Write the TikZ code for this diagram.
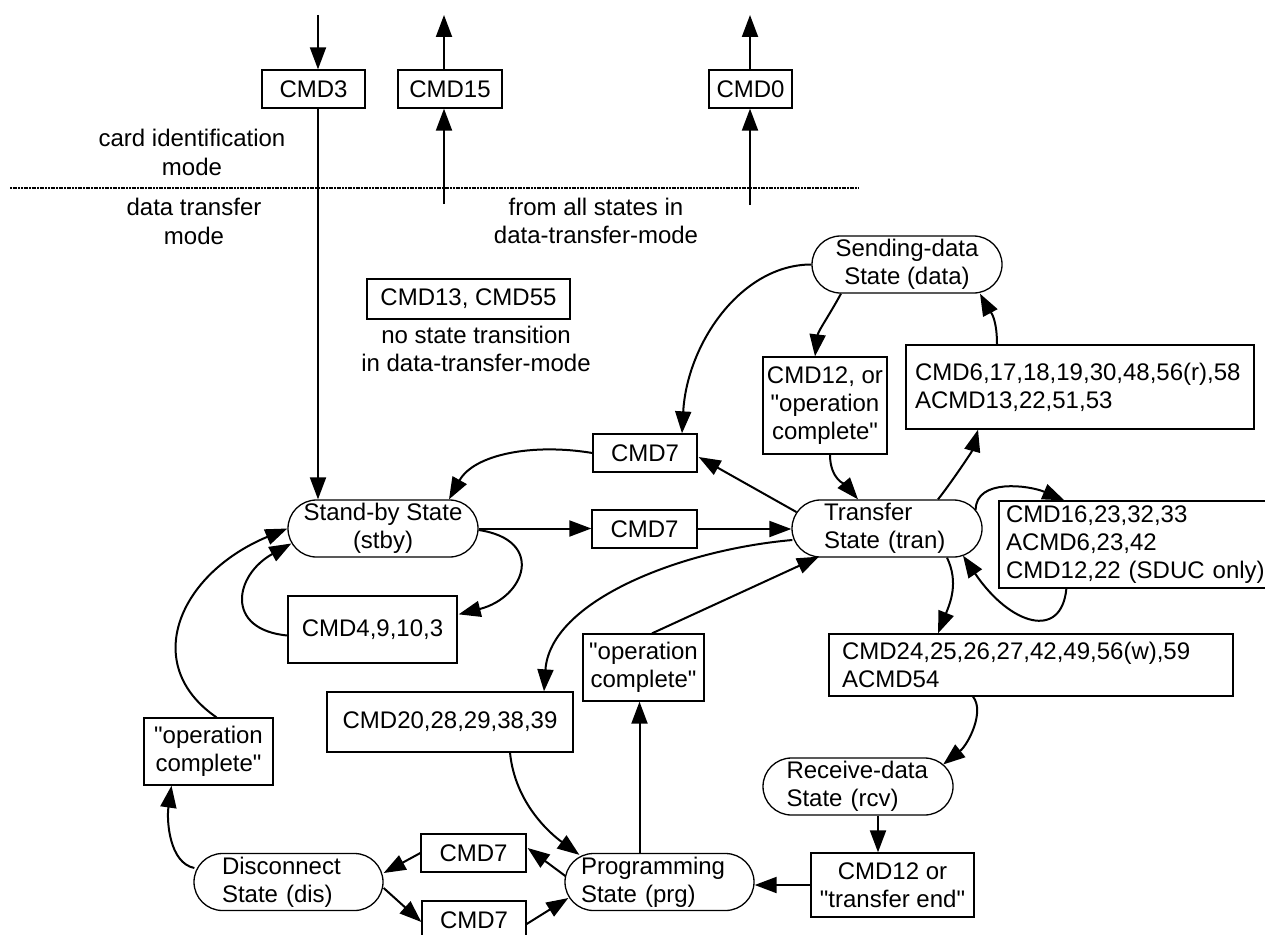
\documentclass[tikz,border=0pt]{standalone}
\usepackage{fontspec}
\newfontfamily\diagfont{Liberation Sans}
\usetikzlibrary{arrows.meta,calc}
\begin{document}
\begin{tikzpicture}[x=1pt,y=-1pt,
  font=\diagfont\fontsize{24pt}{28.3pt}\selectfont,
  box/.style={draw, line width=1.3pt, inner sep=0pt, align=center},
  lbox/.style={draw, line width=1.3pt, inner ysep=0pt, align=left},
  state/.style={draw, line width=1.3pt, rounded corners=28.5pt, inner sep=0pt, minimum width=190pt, minimum height=57pt, align=center},
  lstate/.style={draw, line width=1.3pt, rounded corners=28.5pt, inner ysep=0pt, minimum height=57pt, align=left},
  arr/.style={line width=2pt, -{Triangle[length=22pt,width=16pt]}},
  lbl/.style={align=center, inner sep=0pt}]

\fill[white] (0,0) rectangle (1265,934);
\useasboundingbox (0,0) rectangle (1265,934);

% ---- top area ----
\node[box, minimum width=103pt, minimum height=38pt] (cmd3) at (313.5,89) {CMD3};
\node[box, minimum width=104pt, minimum height=38pt] (cmd15) at (450,89) {CMD15};
\node[box, minimum width=83pt, minimum height=38pt] (cmd0) at (750.5,89) {CMD0};
\node[lbl] (cardid) at (192,152.5) {card identification\\mode};
\node[lbl] (dtm) at (194,221.5) {data transfer\\mode};
\node[lbl] (fromall) at (596,221) {from all states in\\data-transfer-mode};
\draw[line width=1.6pt, dash pattern=on 2pt off 0.7pt] (10,188) -- (858,188);

\node[box, minimum width=203pt, minimum height=40pt] (cmd1355) at (468.5,299) {CMD13, CMD55};
\node[lbl] (nost) at (476,349) {no state transition\\in data-transfer-mode};

% ---- states ----
\node[state] (data) at (907,264.5) {Sending-data\\State (data)};
\node[state] (stby) at (383,528.5) {Stand-by State\\(stby)};
\node[lstate, text width=126pt, inner xsep=32pt] (tran) at (887,528.5) {Transfer\\State (tran)};
\node[lstate, text width=143pt, inner xsep=23.5pt] (rcv) at (858,786.5) {Receive-data\\State (rcv)};
\node[lstate, text width=157pt, inner xsep=16pt] (prg) at (659.5,882) {Programming\\State (prg)};
\node[lstate, text width=133pt, inner xsep=28pt] (dis) at (288.5,882) {Disconnect\\State (dis)};

% ---- command boxes ----
\node[box, minimum width=124pt, minimum height=97pt] (cmd12or) at (825,405.5) {CMD12, or\\"operation\\complete"};
\node[lbox, text width=330pt, inner xsep=9pt, minimum height=84pt] (cmd6) at (1080,387) {CMD6,17,18,19,30,48,56(r),58\\ACMD13,22,51,53};
\node[lbox, text width=260pt, inner xsep=7pt, minimum height=87pt] (cmd16) at (1136,544.5) {CMD16,23,32,33\\ACMD6,23,42\\CMD12,22 (SDUC only)};
\node[lbox, text width=378pt, inner xsep=13pt, minimum height=62pt] (cmd24) at (1031,665) {CMD24,25,26,27,42,49,56(w),59\\ACMD54};
\node[box, minimum width=104pt, minimum height=38pt] (cmd7a) at (645,453) {CMD7};
\node[box, minimum width=105pt, minimum height=38pt] (cmd7b) at (644.5,529) {CMD7};
\node[box, minimum width=163pt, minimum height=64pt] (cmd12te) at (892.5,885) {CMD12 or\\"transfer end"};
\node[box, minimum width=121pt, minimum height=67pt] (opc2) at (643.5,667.5) {"operation\\complete"};
\node[box, minimum width=246pt, minimum height=60pt] (cmd20) at (450,722) {CMD20,28,29,38,39};
\node[box, minimum width=169pt, minimum height=67pt] (cmd4) at (372.5,629.5) {CMD4,9,10,3};
\node[box, minimum width=129pt, minimum height=67pt] (opc1) at (208.5,751.5) {"operation\\complete"};
\node[box, minimum width=105pt, minimum height=38pt] (cmd7c) at (473.5,853) {CMD7};
\node[box, minimum width=104pt, minimum height=38pt] (cmd7d) at (474,920) {CMD7};

% ---- connectors: top ----
\coordinate (t3) at (318,15);
\draw[arr] (t3) -- (t3 |- cmd3.north);
\draw[arr] (cmd3.south -| t3) -- (stby.north -| t3);
\coordinate (t15) at (444,15);
\coordinate (b15) at (444,204);
\draw[arr] (cmd15.north -| t15) -- (t15);
\draw[arr] (b15) -- (b15 |- cmd15.south);
\coordinate (t0) at (750,15);
\coordinate (b0) at (750,205);
\draw[arr] (cmd0.north -| t0) -- (t0);
\draw[arr] (b0) -- (b0 |- cmd0.south);

% ---- connectors: main ----
\draw[arr] (data.west) .. controls +(-70,0) and +(5,-90) .. ($(cmd7a.north)+(37,0)$);
\draw[arr] (cmd7a.west) .. controls +(-60,-10) and +(25,-45) .. ($(stby.north)+(66,0)$);
\draw[arr] ($(tran.west)+(5,-16.5)$) -- ($(cmd7a.east)+(1,4)$);
\draw[arr] (stby.east) -- (stby.east -| cmd7b.west);
\draw[arr] (cmd7b.east) -- (cmd7b.east -| tran.west);
\draw[arr] ($(data.south)+(-66,0)$) .. controls +(-12,22) and +(3,-25) .. ($(cmd12or.north)+(-10,0)$);
\draw[arr] ($(cmd12or.south)+(5,0)$) .. controls +(0,25) and +(-12,-14) .. ($(tran.north)+(-29,0)$);
\draw[arr] ($(tran.north)+(51,0)$) .. controls +(12,-15) and +(-6,22) .. ($(cmd6.south)+(-102,0)$);
\draw[arr] ($(cmd6.north)+(-83,0)$) .. controls +(0,-30) and +(8,15) .. ($(data.south)+(73,0)$);
\draw[arr] ($(tran.east)+(-7,-18.5)$) .. controls +(0,-32) and +(-35,-15) .. ($(cmd16.north west)+(66,0)$);
\draw[arr] ($(cmd16.south west)+(68,0)$) .. controls +(-5,52) and +(47,69.5) .. ($(tran.south)+(76,-2)$);
\draw[arr] ($(tran.south)+(60,0)$) .. controls +(12,25) and +(12,-30) .. ($(cmd24.north)+(-93,0)$);
\draw[arr] ($(cmd24.south)+(-58,0)$) .. controls +(12,15) and +(25,-20) .. ($(rcv.east)+(-10.5,-22)$);
\coordinate (r1) at ($(rcv.south)+(20,0)$);
\draw[arr] (r1) -- (r1 |- cmd12te.north);
\draw[arr] (cmd12te.west) -- (cmd12te.west -| prg.east);
\coordinate (p1) at ($(prg.north)+(-20,0)$);
\draw[arr] (p1) -- (p1 |- opc2.south);
\draw[arr] ($(opc2.north)+(8.5,0)$) -- ($(tran.south)+(-68,-1)$);
\draw[arr] ($(tran.west)+(1,11.5)$) .. controls +(-113,10) and +(6,-90) .. ($(cmd20.north)+(94,0)$);
\draw[arr] ($(cmd20.south)+(60,0)$) .. controls +(5,50) and +(-30,-22) .. ($(prg.north west)+(15,2)$);
\draw[arr] ($(prg.west)+(1,-6)$) -- ($(cmd7c.east)+(1,-5)$);
\draw[arr] (cmd7c.west) -- ($(dis.east)+(0,-9)$);
\draw[arr] ($(dis.east)+(0,6)$) -- ($(cmd7d.west)+(0,2)$);
\draw[arr] ($(cmd7d.east)+(0,4)$) -- ($(prg.west)+(4,16)$);
\draw[arr] ($(dis.west)+(1,-14)$) .. controls +(-25,-5) and +(-5,35) .. ($(opc1.south)+(-37,0)$);
\draw[arr] ($(opc1.north)+(8,0)$) .. controls +(-77,-53) and +(-108,45) .. (stby.west);
\draw[arr] ($(cmd4.west)+(0,6)$) .. controls +(-63,-6) and +(-57,31.5) .. ($(stby.west)+(4,15)$);
\draw[arr] ($(stby.east)+(0,1.5)$) .. controls +(67,10) and +(67,-17) .. ($(cmd4.north east)+(1,19)$);
\end{tikzpicture}
\end{document}
